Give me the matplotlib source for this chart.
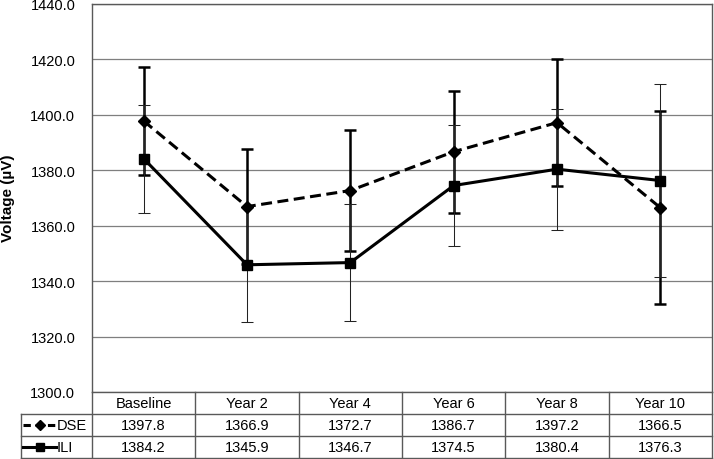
import matplotlib
matplotlib.use("Agg")
import matplotlib.pyplot as plt
import numpy as np

plt.rcParams['font.family'] = ['Liberation Sans', 'DejaVu Sans']

# data
categories = ["Baseline", "Year 2", "Year 4", "Year 6", "Year 8", "Year 10"]
dse_values = [1397.8, 1366.9, 1372.7, 1386.7, 1397.2, 1366.5]
ili_values = [1384.2, 1345.9, 1346.7, 1374.5, 1380.4, 1376.3]
dse_err = [19.5, 20.8, 21.8, 22.0, 22.9, 34.9]
ili_err = [19.5, 20.7, 21.0, 21.8, 21.8, 34.9]
y_ticks = [1300, 1320, 1340, 1360, 1380, 1400, 1420, 1440]

W, H = 714, 460
fig = plt.figure(figsize=(W / 100, H / 100), dpi=100)

# main plot area
ax = fig.add_axes([92 / W, 67 / H, 620 / W, 388 / H])
x = np.arange(len(categories))
dash = (0, (3.6, 1.8))

ax.errorbar(x, dse_values, yerr=dse_err, fmt='none', ecolor='black',
            elinewidth=1.8, capsize=4, capthick=1.8, zorder=3)
ax.errorbar(x, ili_values, yerr=ili_err, fmt='none', ecolor='#222222',
            elinewidth=0.75, capsize=4, capthick=0.75, zorder=3)
ax.plot(x, dse_values, color='black', linestyle=dash, linewidth=2.2,
        marker='D', markersize=6.5, zorder=4)
ax.plot(x, ili_values, color='black', linestyle='-', linewidth=2.2,
        marker='s', markersize=6.5, zorder=4)

ax.set_xlim(-0.5, len(categories) - 0.5)
ax.set_ylim(1300, 1440)
ax.set_yticks(y_ticks)
ax.set_yticklabels([f"{v:.1f}" for v in y_ticks], fontsize=10.5)
ax.set_xticks([])
ax.tick_params(axis='y', length=0, pad=12)
ax.grid(axis='y', color='#7f7f7f', linewidth=0.9)
ax.set_axisbelow(True)
for side in ['top', 'right', 'left', 'bottom']:
    ax.spines[side].set_color('#595959')
    ax.spines[side].set_linewidth(1.0)

fig.text(8 / W, 1 - 198 / H, "Voltage (µV)", rotation=90, fontsize=11,
         fontweight='bold', ha='center', va='center')

# data table below the plot
tab = fig.add_axes([92 / W, 1 / H, 620 / W, 66 / H])
tab.set_xlim(-0.5, len(categories) - 0.5)
tab.set_ylim(0, 3)
tab.axis('off')

unit = 620 / len(categories)
leg_left = -0.5 - (92 - 21) / unit
lc = '#595959'
for yy in [0, 1, 2]:
    tab.plot([leg_left, len(categories) - 0.5], [yy, yy], color=lc, lw=1.0, clip_on=False)
for xx in np.arange(-0.5, len(categories), 1.0):
    tab.plot([xx, xx], [0, 3], color=lc, lw=1.0, clip_on=False)
tab.plot([leg_left, leg_left], [0, 2], color=lc, lw=1.0, clip_on=False)

for i, cat in enumerate(categories):
    tab.text(i, 2.5, cat, ha='center', va='center', fontsize=10.5)
    tab.text(i, 1.5, f"{dse_values[i]:.1f}", ha='center', va='center', fontsize=10.5)
    tab.text(i, 0.5, f"{ili_values[i]:.1f}", ha='center', va='center', fontsize=10.5)

# legend keys inside the table
k0 = -0.5 - (92 - 23) / unit
k1 = -0.5 - (92 - 56) / unit
tab.plot([k0, k1], [1.5, 1.5], color='black', lw=2.2, linestyle=(0, (2.4, 1.6)), clip_on=False)
tab.plot([(k0 + k1) / 2], [1.5], color='black', marker='D', markersize=5.5, clip_on=False)
tab.plot([k0, k1], [0.5, 0.5], color='black', lw=2.2, clip_on=False)
tab.plot([(k0 + k1) / 2], [0.5], color='black', marker='s', markersize=6, clip_on=False)
tab.text(k1 + 0.01, 1.5, "DSE", ha='left', va='center', fontsize=10.5)
tab.text(k1 + 0.01, 0.5, "ILI", ha='left', va='center', fontsize=10.5)

fig.savefig("out.png", dpi=100)
